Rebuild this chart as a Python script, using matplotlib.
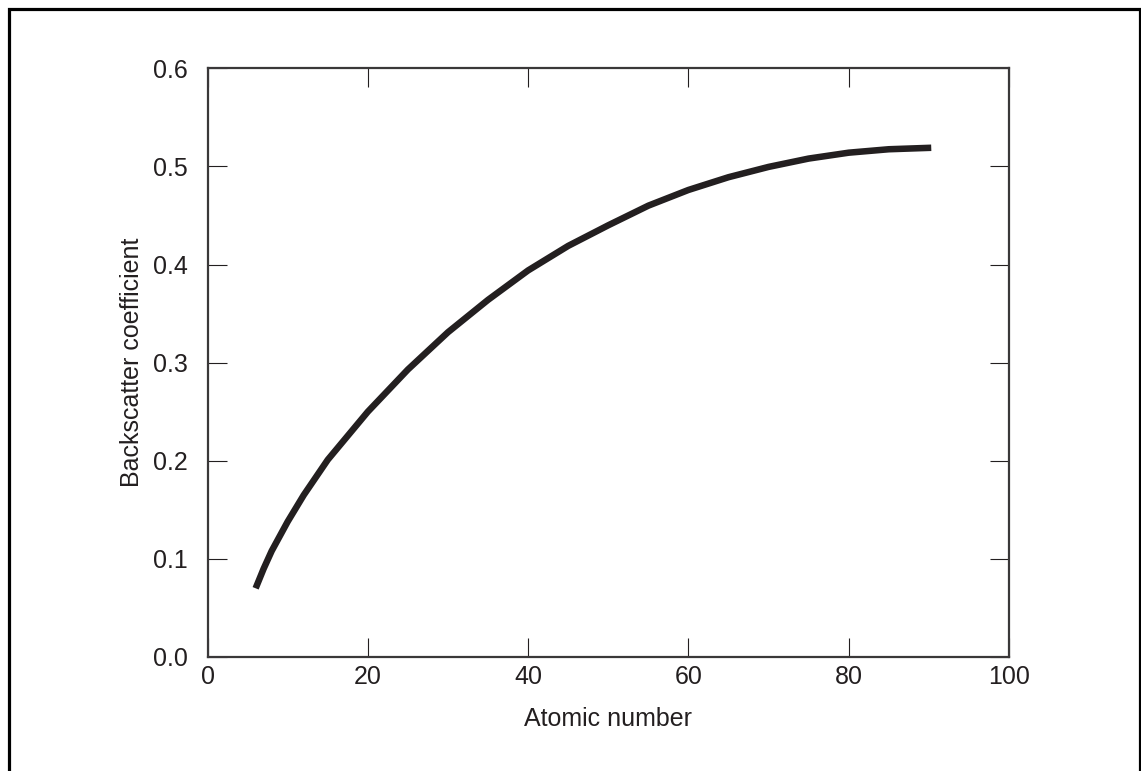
import numpy as np
import matplotlib
matplotlib.use("Agg")
from matplotlib import pyplot as plt
from matplotlib.patches import Rectangle

# values
atomic_number = [6, 7, 8, 10, 12, 15, 20, 25, 30, 35, 40, 45, 50, 55, 60, 65, 70, 75, 80, 85, 90.3]
backscatter = [0.070, 0.090, 0.108, 0.138, 0.165, 0.201, 0.250, 0.293, 0.331, 0.364, 0.394,
               0.419, 0.440, 0.460, 0.476, 0.489, 0.4995, 0.508, 0.514, 0.5175, 0.519]
x_ticks = [0, 20, 40, 60, 80, 100]
y_ticks = [0.0, 0.1, 0.2, 0.3, 0.4, 0.5, 0.6]

ink = "#231f20"
plt.rcParams["font.family"] = ["Liberation Sans", "DejaVu Sans"]


def main():
    fig = plt.figure(figsize=(11.41, 7.71), dpi=100)
    ax = fig.add_axes([0.1819, 0.1479, 0.7024, 0.7635])

    ax.plot(atomic_number, backscatter, color=ink, linewidth=4.7,
            solid_capstyle="butt", solid_joinstyle="round")

    ax.set_xlim(0, 100)
    ax.set_ylim(0, 0.6)
    ax.set_xticks(x_ticks)
    ax.set_xticklabels([str(t) for t in x_ticks])
    ax.set_yticks(y_ticks)
    ax.set_yticklabels(["%.1f" % t for t in y_ticks])

    ax.tick_params(direction="in", length=13.5, width=0.8, color=ink,
                   top=True, right=True, labelsize=18, labelcolor=ink)
    ax.tick_params(axis="x", pad=6)
    ax.tick_params(axis="y", pad=14.5)
    for s in ax.spines.values():
        s.set_linewidth(1.6)
        s.set_color("#3a3839")

    ax.set_xlabel("Atomic number", fontsize=18, color=ink, labelpad=13)
    ax.set_ylabel("Backscatter coefficient", fontsize=18, color=ink, labelpad=6)

    # outer frame, runs off the bottom of the picture
    fig.add_artist(Rectangle((0.0075, -0.05), 0.9912, 0.9877 + 0.05, transform=fig.transFigure,
                             fill=False, linewidth=2.3, edgecolor="black", clip_on=False))

    fig.savefig("out.png", dpi=100)


if __name__ == '__main__':
    main()
